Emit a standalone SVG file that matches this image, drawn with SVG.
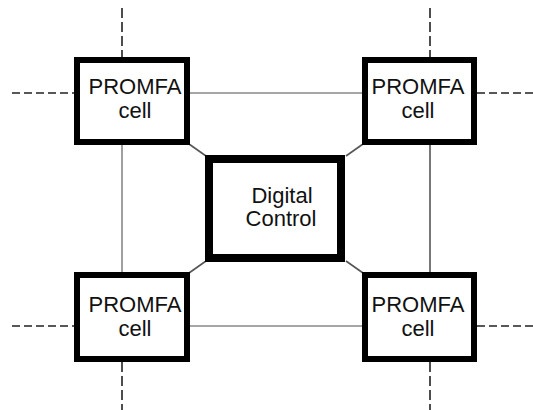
<svg xmlns="http://www.w3.org/2000/svg" width="533" height="410" viewBox="0 0 533 410">
<style>
.cell{fill:#fff;stroke:#000;stroke-width:6}
.ctrl{fill:#fff;stroke:#000;stroke-width:8}
.t{font-family:"Liberation Sans",Arial,sans-serif;font-size:22px;fill:#111;text-anchor:middle}
.g{stroke:#888;stroke-width:1.6;fill:none}
.gd{stroke:#555;stroke-width:1.6;fill:none}
.d{stroke:#222;stroke-width:1.6;fill:none}
.dh{stroke-dasharray:8 4}
.dv{stroke-dasharray:10 4}
</style>
<rect width="533" height="410" fill="#fff"/>
<g id="connectors">
<line class="g" x1="190" y1="93" x2="362" y2="93"/>
<line class="g" x1="190" y1="326" x2="362" y2="326"/>
<line class="g" x1="122" y1="145" x2="122" y2="272"/>
<line class="gd" x1="430" y1="145" x2="430" y2="272"/>
<line class="gd" x1="189" y1="144" x2="206" y2="156"/>
<line class="gd" x1="363" y1="144" x2="346" y2="156"/>
<line class="gd" x1="189" y1="273" x2="206" y2="261"/>
<line class="gd" x1="363" y1="273" x2="346" y2="261"/>
<line class="d dv" x1="122" y1="8" x2="122" y2="57"/>
<line class="d dh" x1="12" y1="93" x2="74" y2="93"/>
<line class="d dv" x1="430" y1="8" x2="430" y2="57"/>
<line class="d dh" x1="477" y1="93" x2="533" y2="93"/>
<line class="d dh" x1="12" y1="326" x2="74" y2="326"/>
<line class="d dv" x1="122" y1="362" x2="122" y2="410"/>
<line class="d dh" x1="477" y1="326" x2="533" y2="326"/>
<line class="d dv" x1="430" y1="362" x2="430" y2="410"/>
</g>
<g id="cell-tl">
<rect class="cell" x="77" y="60" width="110" height="82"/>
<text class="t" x="135" y="94">PROMFA</text>
<text class="t" x="135" y="118">cell</text>
</g>
<g id="cell-tr">
<rect class="cell" x="365" y="60" width="109" height="82"/>
<text class="t" x="418" y="94">PROMFA</text>
<text class="t" x="418" y="118">cell</text>
</g>
<g id="cell-bl">
<rect class="cell" x="77" y="275" width="110" height="84"/>
<text class="t" x="135" y="312">PROMFA</text>
<text class="t" x="135" y="336">cell</text>
</g>
<g id="cell-br">
<rect class="cell" x="365" y="275" width="109" height="84"/>
<text class="t" x="418" y="312">PROMFA</text>
<text class="t" x="418" y="336">cell</text>
</g>
<g id="digital-control">
<rect class="ctrl" x="209" y="159" width="132" height="99"/>
<text class="t" x="282" y="203">Digital</text>
<text class="t" x="281" y="226">Control</text>
</g>
</svg>
